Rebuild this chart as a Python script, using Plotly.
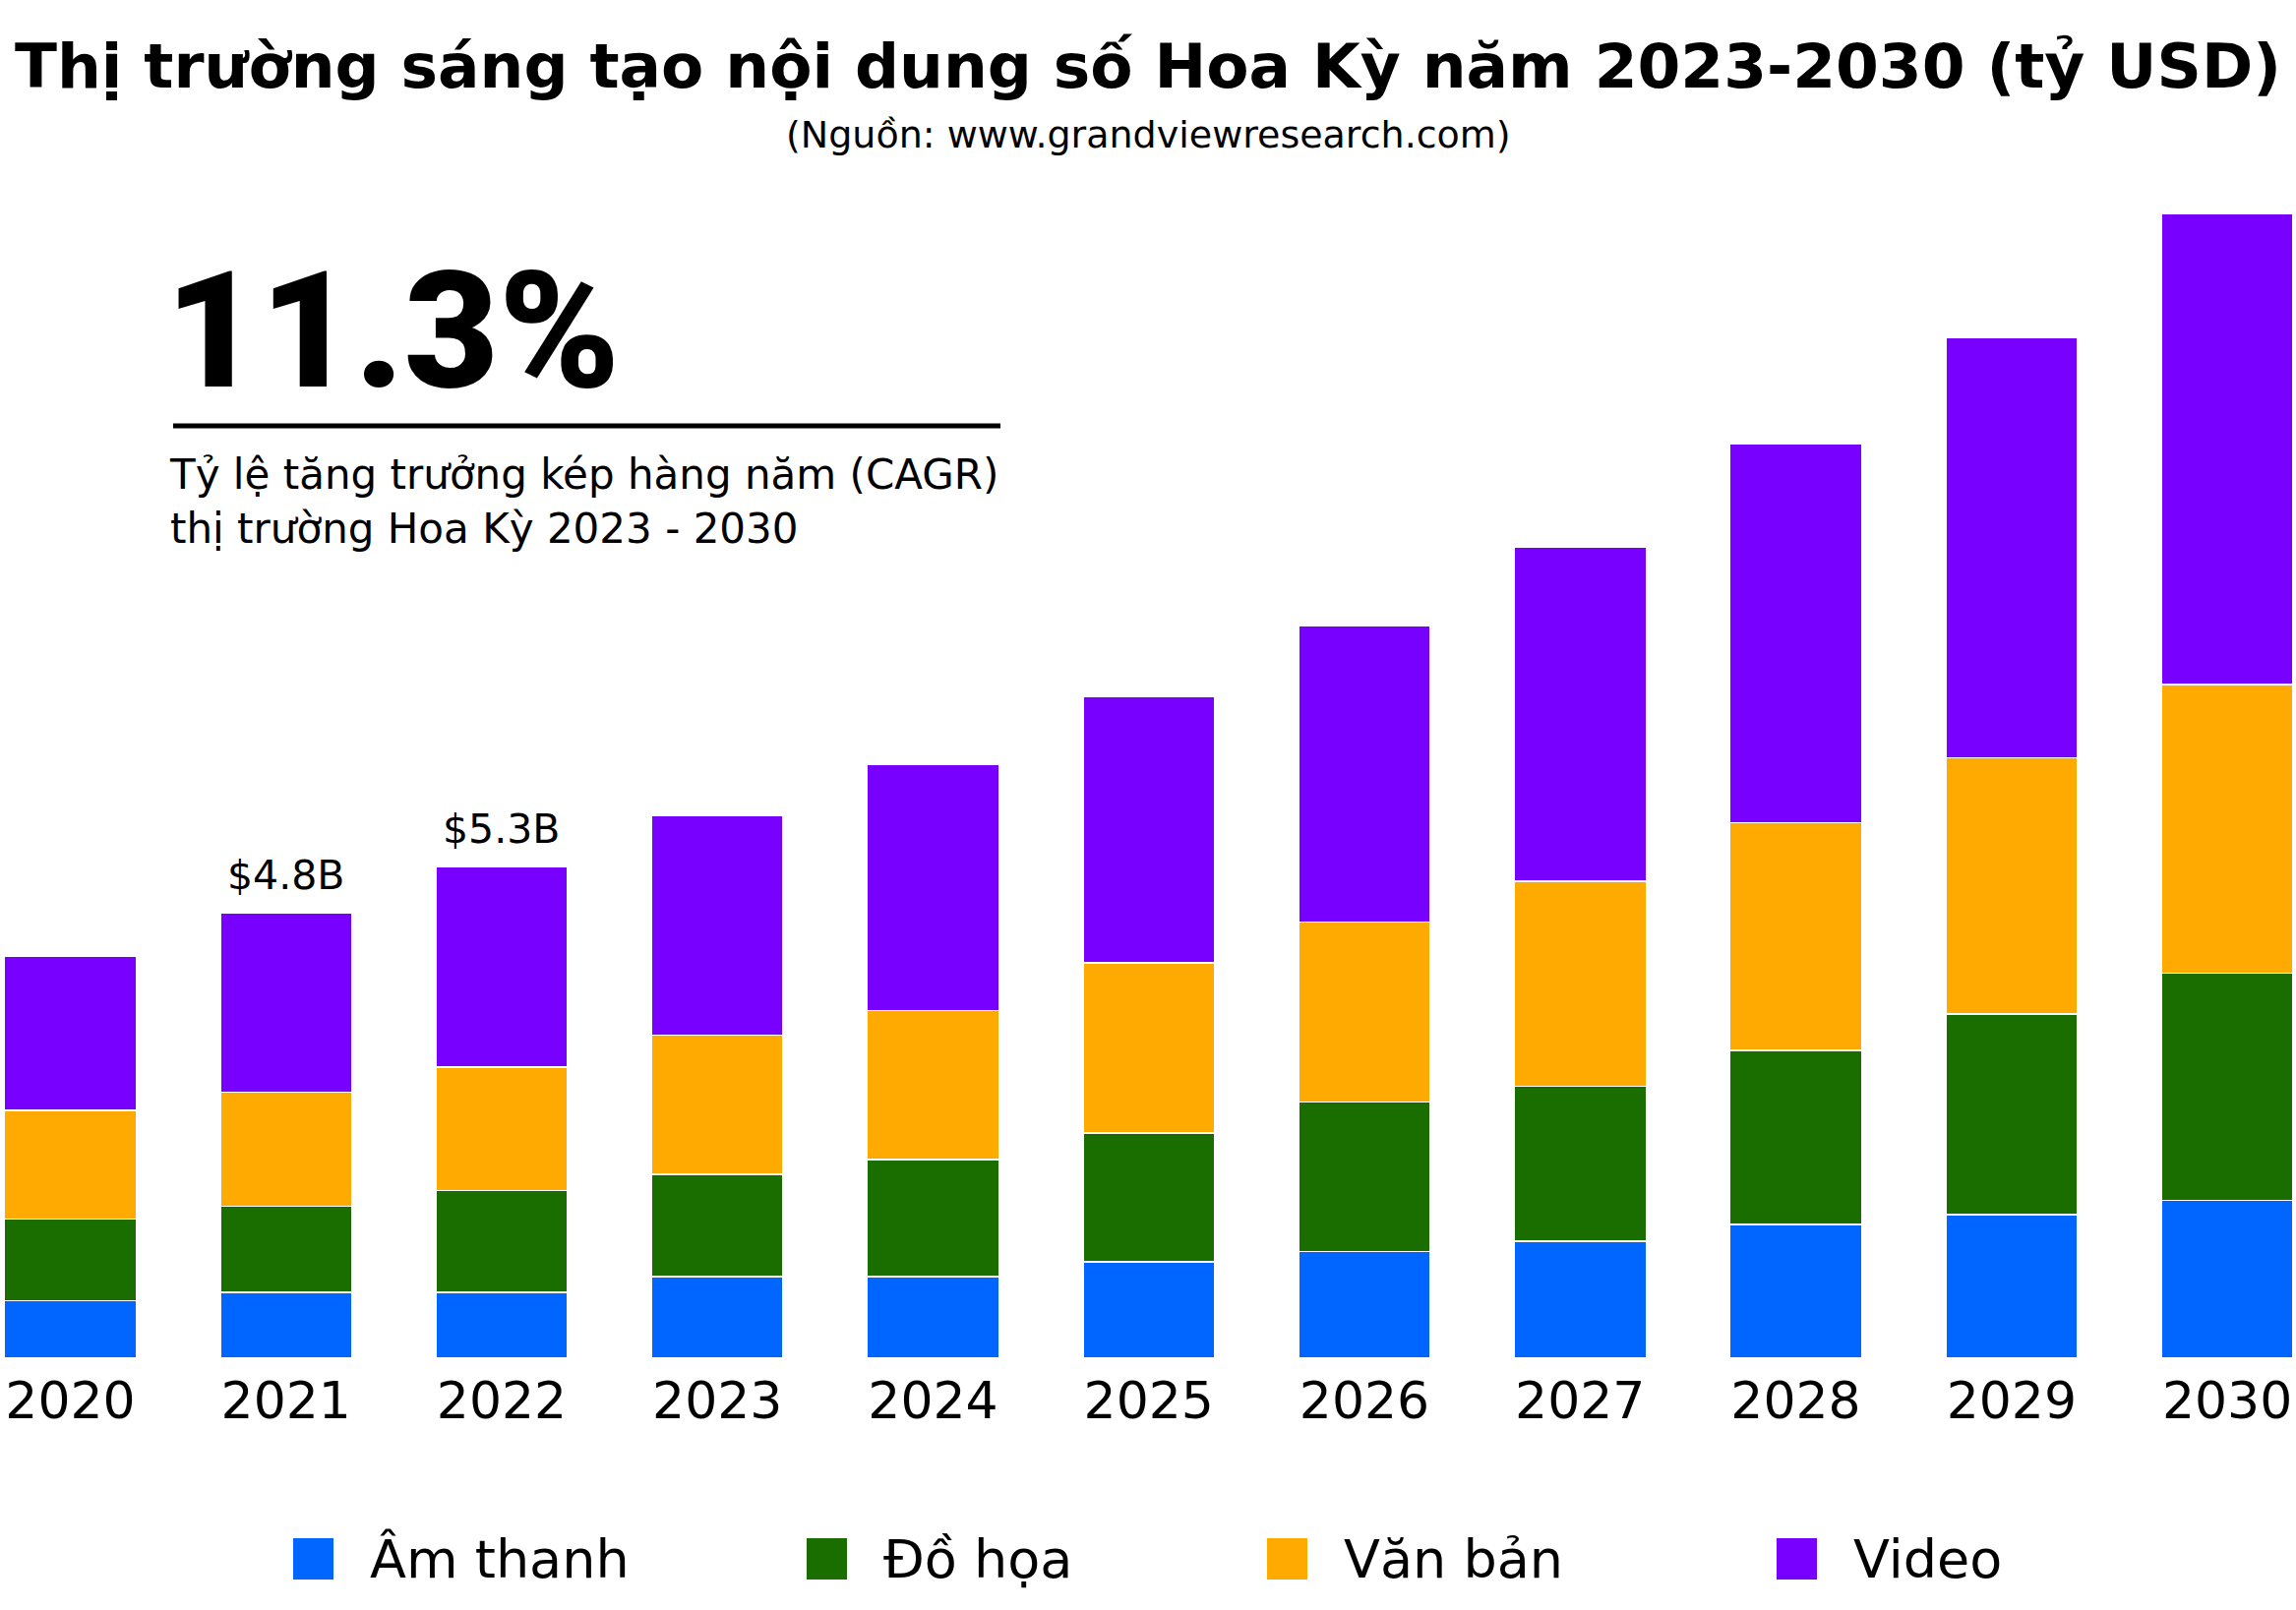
import plotly.graph_objects as go

# ---- data ----
years = ["2020", "2021", "2022", "2023", "2024", "2025", "2026", "2027", "2028", "2029", "2030"]
series_names = ["Âm thanh", "Đồ họa", "Văn bản", "Video"]
am_thanh = [0.62, 0.71, 0.71, 0.88, 0.88, 1.04, 1.15, 1.26, 1.44, 1.55, 1.70]
do_hoa = [0.88, 0.93, 1.10, 1.10, 1.26, 1.39, 1.61, 1.67, 1.88, 2.16, 2.45]
van_ban = [1.17, 1.23, 1.33, 1.50, 1.61, 1.83, 1.94, 2.21, 2.45, 2.76, 3.11]
video = [1.66, 1.93, 2.16, 2.37, 2.65, 2.87, 3.20, 3.60, 4.09, 4.53, 5.08]
labelled_years = ["2021", "2022"]
labelled_text = ["$4.8B", "$5.3B"]
cagr_text = "11.3%"
cagr_caption = "Tỷ lệ tăng trưởng kép hàng năm (CAGR)<br>thị trường Hoa Kỳ 2023 - 2030"
title_text = "Thị trường sáng tạo nội dung số Hoa Kỳ năm 2023-2030 (tỷ USD)"
subtitle_text = "(Nguồn: www.grandviewresearch.com)"

colors = ["#0066ff", "#1a6e00", "#ffaa00", "#7700ff"]
series_values = [am_thanh, do_hoa, van_ban, video]

W, H = 2334, 1637
M_T, M_B = 200, 256
PLOT_H = H - M_T - M_B
FONT = "DejaVu Sans"


def xp(px):
    return px / W


def yp(px):
    return (H - M_B - px) / PLOT_H


fig = go.Figure()
for name, vals, col in zip(series_names, series_values, colors):
    fig.add_trace(go.Bar(
        x=years, y=vals, name=name,
        marker=dict(color=col, line=dict(color="white", width=1.5)),
        showlegend=False,
    ))

annotations = []
# totals labels
totals = [sum(v) for v in zip(*series_values)]
for yr, txt in zip(labelled_years, labelled_text):
    i = years.index(yr)
    annotations.append(dict(
        x=i, y=totals[i], xref="x", yref="y", text=txt, showarrow=False,
        yanchor="bottom", yshift=12, font=dict(family=FONT, size=41, color="black")))

# title / subtitle
annotations.append(dict(x=0.5, y=yp(67), xref="paper", yref="paper", text="<b>" + title_text + "</b>",
                        showarrow=False, xanchor="center", yanchor="middle",
                        font=dict(family=FONT, size=63, color="black")))
annotations.append(dict(x=0.5, y=yp(137), xref="paper", yref="paper", text=subtitle_text,
                        showarrow=False, xanchor="center", yanchor="middle",
                        font=dict(family=FONT, size=38, color="black")))
# CAGR block
annotations.append(dict(x=xp(166), y=yp(337), xref="paper", yref="paper", text=cagr_text,
                        showarrow=False, xanchor="left", yanchor="middle",
                        font=dict(family="Roboto", size=166, color="black", weight=900)))
annotations.append(dict(x=xp(170), y=yp(510), xref="paper", yref="paper", text=cagr_caption,
                        showarrow=False, xanchor="left", yanchor="middle", align="left",
                        font=dict(family=FONT, size=42, color="black")))

shapes = [dict(type="line", xref="paper", yref="paper", x0=xp(176), x1=xp(1017),
               y0=yp(433), y1=yp(433), line=dict(color="black", width=5))]

# manual legend (large swatches)
legend_sq_x = [298, 820, 1288, 1806]
legend_y = 1585
for name, col, sx in zip(series_names, colors, legend_sq_x):
    shapes.append(dict(type="rect", xref="paper", yref="paper", x0=xp(sx), x1=xp(sx + 41),
                       y0=yp(legend_y - 21), y1=yp(legend_y + 21),
                       fillcolor=col, line=dict(width=0)))
    annotations.append(dict(x=xp(sx + 76), y=yp(legend_y), xref="paper", yref="paper", text=name,
                            showarrow=False, xanchor="left", yanchor="middle",
                            font=dict(family=FONT, size=54, color="black")))

fig.update_layout(
    width=W, height=H,
    barmode="stack", bargap=0.389,
    plot_bgcolor="white", paper_bgcolor="white",
    margin=dict(l=0, r=0, t=M_T, b=M_B, autoexpand=False),
    xaxis=dict(type="category", range=[-0.326, 10.319], showgrid=False, showline=False,
               zeroline=False, ticks="", tickfont=dict(family=FONT, size=52, color="black"),
               ticklabelstandoff=8),
    yaxis=dict(range=[0, 12.52], visible=False),
    annotations=annotations, shapes=shapes,
    font=dict(family=FONT, color="black"),
)

fig.write_html("out.html", config={"displayModeBar": False},
               post_script="document.body.style.margin='0';")
